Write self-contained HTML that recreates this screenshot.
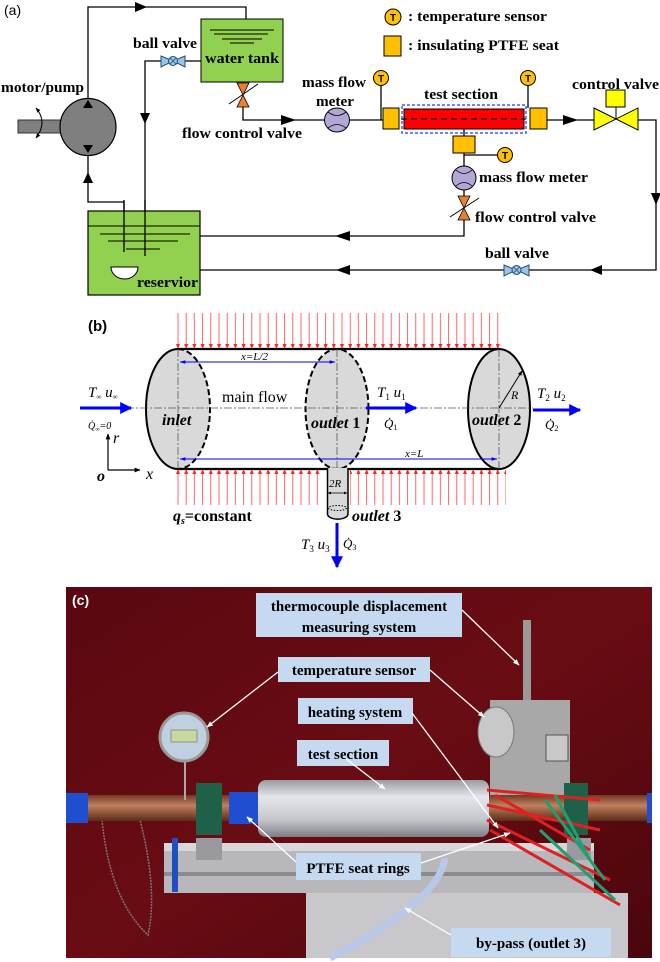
<!DOCTYPE html>
<html><head><meta charset="utf-8"><style>
html,body{margin:0;padding:0;background:#fff}
svg{display:block}
.lb{font-family:"Liberation Serif",serif;font-weight:bold;font-size:15px;fill:#000}
.ph{font-family:"Liberation Serif",serif;font-weight:bold;font-size:15px;fill:#000}
.it{font-family:"Liberation Serif",serif;font-style:italic}
</style></head><body>
<svg width="660" height="962" viewBox="0 0 660 962" xmlns="http://www.w3.org/2000/svg">
<defs>
<marker id="ah" viewBox="0 0 10 10" refX="9" refY="5" markerWidth="4" markerHeight="4" orient="auto"><path d="M0,0L10,5L0,10z" fill="#0000ff"/></marker>
<marker id="as" viewBox="0 0 10 10" refX="9" refY="5" markerWidth="6" markerHeight="6" orient="auto-start-reverse"><path d="M0,2L10,5L0,8z" fill="#0000ff"/></marker>
<marker id="ak" viewBox="0 0 10 10" refX="9" refY="5" markerWidth="5" markerHeight="5" orient="auto-start-reverse"><path d="M0,1L10,5L0,9z" fill="#000"/></marker>
<marker id="aw" viewBox="0 0 10 10" refX="9" refY="5" markerWidth="5" markerHeight="5" orient="auto"><path d="M0,1L10,5L0,9z" fill="#fff"/></marker>
<pattern id="rdn" patternUnits="userSpaceOnUse" x="174" y="313" width="8.2" height="36"><line x1="4" y1="0" x2="4" y2="32" stroke="#ff4040" stroke-width=".8"/><path d="M2,31L6,31L4,36z" fill="#ff2020"/></pattern>
<pattern id="rup" patternUnits="userSpaceOnUse" x="174" y="469" width="8.2" height="36"><line x1="4" y1="4" x2="4" y2="36" stroke="#ff4040" stroke-width=".8"/><path d="M2,5L6,5L4,0z" fill="#ff2020"/></pattern>
<linearGradient id="cu" x1="0" y1="0" x2="0" y2="1"><stop offset="0" stop-color="#6e3a22"/><stop offset=".4" stop-color="#c08060"/><stop offset="1" stop-color="#5a2c18"/></linearGradient>
<linearGradient id="foil" x1="0" y1="0" x2="0" y2="1"><stop offset="0" stop-color="#9a9ca4"/><stop offset=".3" stop-color="#e4e6ea"/><stop offset=".7" stop-color="#c4c6cc"/><stop offset="1" stop-color="#7c7e84"/></linearGradient>
<linearGradient id="bg" x1="0" y1="0" x2="1" y2="1"><stop offset="0" stop-color="#5a0810"/><stop offset=".5" stop-color="#6a0c14"/><stop offset="1" stop-color="#4a060c"/></linearGradient>
</defs>

<!-- ===== (a) ===== -->
<text x="4" y="15" font-family="Liberation Sans,sans-serif" font-size="14">(a)</text>
<g stroke="#000" stroke-width="1.3" fill="none">
<polyline points="88,99 88,7 246,7 246,19"/>
<polyline points="201,61 145,61 145,256"/>
<polyline points="243,107 243,120 324,120"/>
<line x1="349" y1="120" x2="383" y2="120"/>
<line x1="381" y1="85" x2="381" y2="120"/>
<line x1="528" y1="85" x2="528" y2="108"/>
<line x1="547" y1="120" x2="594" y2="120"/>
<polyline points="638,120 656,120 656,270 528,270"/>
<line x1="506" y1="270" x2="200" y2="270"/>
<line x1="464" y1="129" x2="464" y2="166"/>
<line x1="464" y1="155" x2="497" y2="155"/>
<line x1="464" y1="190" x2="464" y2="196"/>
<polyline points="464,220 464,236 200,236"/>
<polyline points="88,155 88,202 124,202 124,252"/>
</g>
<g fill="#000">
<path d="M135,2L147,7L135,12z"/>
<path d="M140,113L145,124L150,113z"/>
<path d="M281,115L296,120L281,125z"/>
<path d="M563,115L578,120L563,125z"/>
<path d="M651,193L656,205L661,193z"/>
<path d="M602,265L590,270L602,275z"/>
<path d="M350,265L336,270L350,275z"/>
<path d="M350,231L335,236L350,241z"/>
<path d="M83,183L88,172L93,183z"/>
</g>
<!-- water tank -->
<rect x="201" y="19" width="82" height="63" fill="#92d050" stroke="#000" stroke-width="1"/>
<g stroke="#000" stroke-width="1"><line x1="210" y1="30" x2="274" y2="30"/><line x1="214" y1="34" x2="268" y2="34"/><line x1="222" y1="39" x2="262" y2="39"/><line x1="230" y1="43" x2="254" y2="43"/></g>
<text x="205" y="63" class="lb" textLength="74" lengthAdjust="spacingAndGlyphs">water tank</text>
<!-- ball valves -->
<g stroke="#1f4e79" stroke-width="1" fill="#9dc3e6">
<path d="M161,56L173,61L161,67z"/><path d="M185,56L173,61L185,67z"/><circle cx="173" cy="61" r="4.5"/>
<path d="M504,265L516,270L504,276z"/><path d="M529,265L517,270L529,276z"/><circle cx="516.5" cy="270" r="4.5"/>
</g>
<g stroke="#1f4e79" stroke-width="0.8"><path d="M170,58L176,64M176,58L170,64M513.5,267L519.5,273M519.5,267L513.5,273"/></g>
<text x="133" y="48" class="lb" textLength="64" lengthAdjust="spacingAndGlyphs">ball valve</text>
<text x="485" y="258" class="lb" textLength="64" lengthAdjust="spacingAndGlyphs">ball valve</text>
<!-- flow control valves -->
<g fill="#ed7d31" stroke="#000" stroke-width=".8">
<path d="M237,83L249,83L243,95z"/><path d="M237,107L249,107L243,95z"/>
<path d="M458,196L470,196L464,208z"/><path d="M458,220L470,220L464,208z"/>
</g>
<g stroke="#000" stroke-width="1"><line x1="229" y1="104" x2="258" y2="84"/><line x1="450" y1="217" x2="479" y2="198"/></g>
<text x="182" y="138" class="lb" textLength="120" lengthAdjust="spacingAndGlyphs">flow control valve</text>
<text x="475" y="222" class="lb" textLength="121" lengthAdjust="spacingAndGlyphs">flow control valve</text>
<!-- mass flow meters -->
<g fill="#b4a7d6" stroke="#000" stroke-width="1">
<ellipse cx="337" cy="120" rx="12.5" ry="12"/><ellipse cx="464" cy="178" rx="12" ry="12"/>
</g>
<g fill="none" stroke="#000" stroke-width=".8"><path d="M328,112Q337,119 346,112M328,128Q337,121 346,128M456,170Q464,177 472,170M456,186Q464,179 472,186"/></g>
<text x="302" y="87" class="lb" textLength="64" lengthAdjust="spacingAndGlyphs">mass flow</text>
<text x="316" y="106" class="lb" textLength="38" lengthAdjust="spacingAndGlyphs">meter</text>
<text x="479" y="182" class="lb" textLength="109" lengthAdjust="spacingAndGlyphs">mass flow meter</text>
<!-- temp sensors -->
<g fill="#ffc000" stroke="#000" stroke-width="1"><circle cx="381" cy="78" r="7.5"/><circle cx="528" cy="78" r="7.5"/><circle cx="505" cy="155" r="7.5"/><circle cx="393" cy="17" r="8"/></g>
<g font-family="Liberation Sans,sans-serif" font-size="10" font-weight="bold" text-anchor="middle"><text x="381" y="82">T</text><text x="528" y="82">T</text><text x="505" y="159">T</text><text x="393" y="21">T</text></g>
<!-- PTFE seats & test section -->
<g fill="#ffc000" stroke="#000" stroke-width="1"><rect x="383" y="108" width="16" height="21"/><rect x="530" y="108" width="17" height="21"/><rect x="453" y="136" width="22" height="17"/><rect x="384" y="36" width="17" height="20"/></g>
<rect x="404" y="109" width="120" height="20" fill="#ff0000" stroke="#000" stroke-width="1"/>
<line x1="401" y1="119" x2="526" y2="119" stroke="#000" stroke-width="1.2" stroke-dasharray="6,4"/>
<rect x="402" y="105" width="124" height="28" fill="none" stroke="#2030ff" stroke-width="1.2" stroke-dasharray="3,2"/>
<text x="424" y="99" class="lb" textLength="74" lengthAdjust="spacingAndGlyphs">test section</text>
<text x="408" y="21" class="lb" textLength="139" lengthAdjust="spacingAndGlyphs">: temperature sensor</text>
<text x="408" y="50" class="lb" textLength="151" lengthAdjust="spacingAndGlyphs">: insulating PTFE seat</text>
<!-- control valve -->
<path d="M594,108L638,130L638,108L594,130z" fill="#ffff00" stroke="#000" stroke-width="1"/>
<line x1="616" y1="107" x2="616" y2="119" stroke="#000"/>
<rect x="606" y="90" width="19" height="17" fill="#ffff00" stroke="#000"/>
<text x="572" y="89" class="lb" textLength="87" lengthAdjust="spacingAndGlyphs">control valve</text>
<!-- pump -->
<rect x="18" y="120" width="45" height="13" fill="#7f7f7f" stroke="#333" stroke-width="1"/>
<ellipse cx="88" cy="127" rx="28" ry="28.5" fill="#7f7f7f" stroke="#000" stroke-width="1.2"/>
<path d="M83,108L88,100L93,108z M83,145L88,153L93,145z" fill="#000"/>
<path d="M36,108Q48,122 36,138" fill="none" stroke="#000" stroke-width="1" marker-start="url(#ak)" marker-end="url(#ak)"/>
<text x="1" y="92" class="lb" textLength="83" lengthAdjust="spacingAndGlyphs">motor/pump</text>
<!-- reservoir -->
<rect x="88" y="211" width="112" height="84" fill="#92d050" stroke="#000" stroke-width="1.2"/>
<g stroke="#000" stroke-width="1"><line x1="88" y1="226" x2="200" y2="226"/><line x1="100" y1="234" x2="190" y2="234"/><line x1="108" y1="241" x2="178" y2="241"/><line x1="126" y1="249" x2="160" y2="249"/></g>
<g stroke="#000" stroke-width="1.3"><line x1="124" y1="200" x2="124" y2="252"/><line x1="145" y1="200" x2="145" y2="256"/></g>
<path d="M111,267L138,267A13.5,12 0 0 1 111,267z" fill="#fff" stroke="#000"/>
<text x="137" y="287" class="lb" textLength="61" lengthAdjust="spacingAndGlyphs">reservior</text>

<!-- ===== (b) ===== -->
<text x="88" y="331" font-family="Liberation Sans,sans-serif" font-size="15" font-weight="bold">(b)</text>
<rect x="174" y="313" width="328" height="36" fill="url(#rdn)"/>
<rect x="174" y="469" width="148" height="36" fill="url(#rup)"/>
<rect x="350" y="469" width="156" height="36" fill="url(#rup)"/>
<ellipse cx="178" cy="409" rx="32" ry="60" fill="#d9d9d9"/>
<ellipse cx="337" cy="409" rx="31.5" ry="60" fill="#d9d9d9"/>
<ellipse cx="499" cy="409" rx="31" ry="60" fill="#d9d9d9" stroke="#000" stroke-width="2"/>
<path d="M178,349A32,60 0 0 0 178,469" fill="none" stroke="#000" stroke-width="2"/>
<path d="M178,349A32,60 0 0 1 178,469" fill="none" stroke="#000" stroke-width="2" stroke-dasharray="6,3"/>
<ellipse cx="337" cy="409" rx="31.5" ry="60" fill="none" stroke="#000" stroke-width="2" stroke-dasharray="6,3"/>
<line x1="178" y1="349" x2="499" y2="349" stroke="#000" stroke-width="2.2"/>
<line x1="178" y1="469" x2="499" y2="469" stroke="#000" stroke-width="2.2"/>
<g stroke="#555" stroke-width=".8" stroke-dasharray="8,2,2,2"><line x1="126" y1="408" x2="533" y2="408"/><line x1="178" y1="349" x2="178" y2="469"/><line x1="337" y1="349" x2="337" y2="469"/><line x1="499" y1="349" x2="499" y2="469"/></g>
<line x1="180" y1="362" x2="335" y2="362" stroke="#0000ff" stroke-width="1" marker-start="url(#as)" marker-end="url(#as)"/>
<line x1="180" y1="459" x2="497" y2="459" stroke="#0000ff" stroke-width="1" marker-start="url(#as)" marker-end="url(#as)"/>
<line x1="499" y1="408" x2="522" y2="371" stroke="#000" stroke-width="1" marker-end="url(#ak)"/>
<path d="M327.5,468L327.5,514A10,5 0 0 0 348,514L348,468" fill="#d9d9d9" stroke="#000" stroke-width="1.5"/>
<ellipse cx="337.5" cy="508" rx="9" ry="2.5" fill="none" stroke="#000" stroke-dasharray="1.5,1.5"/>
<line x1="328" y1="493" x2="347" y2="493" stroke="#000" stroke-width=".7" marker-start="url(#ak)" marker-end="url(#ak)"/>
<g stroke="#0000ff" stroke-width="3" marker-end="url(#ah)"><line x1="80" y1="408" x2="131" y2="408"/><line x1="366" y1="408" x2="416" y2="408"/><line x1="533" y1="410" x2="580" y2="410"/><line x1="337" y1="523" x2="337" y2="567"/></g>
<g stroke="#000" stroke-width="1.2" marker-end="url(#ak)"><line x1="108" y1="470" x2="108" y2="434"/><line x1="108" y1="470" x2="140" y2="470"/></g>
<g font-family="Liberation Serif,serif" font-size="15">
<text x="88" y="397" class="it">T<tspan font-size="7" dy="2">∞</tspan><tspan dy="-2"> u</tspan><tspan font-size="7" dy="2">∞</tspan></text>
<text x="88" y="429" class="it" font-size="10">Q̇<tspan font-size="6" dy="2">∞</tspan><tspan dy="-2">=0</tspan></text>
<text x="222" y="402" font-size="16">main flow</text>
<text x="162" y="425" class="it" font-weight="bold" font-size="16">inlet</text>
<text x="311" y="428" class="it" font-weight="bold" font-size="16">outlet <tspan font-style="normal">1</tspan></text>
<text x="472" y="425" class="it" font-weight="bold" font-size="16">outlet <tspan font-style="normal">2</tspan></text>
<text x="377" y="397" class="it">T<tspan font-size="9" dy="3" font-style="normal">1</tspan><tspan dy="-3"> u</tspan><tspan font-size="9" dy="3" font-style="normal">1</tspan></text>
<text x="537" y="398" class="it">T<tspan font-size="9" dy="3" font-style="normal">2</tspan><tspan dy="-3"> u</tspan><tspan font-size="9" dy="3" font-style="normal">2</tspan></text>
<text x="384" y="428" class="it" font-size="13">Q̇<tspan font-size="8" dy="2" font-style="normal">1</tspan></text>
<text x="545" y="429" class="it" font-size="13">Q̇<tspan font-size="8" dy="2" font-style="normal">2</tspan></text>
<text x="511" y="399" class="it" font-size="12">R</text>
<text x="241" y="360" class="it" font-size="11">x=L/2</text>
<text x="405" y="457" class="it" font-size="11">x=L</text>
<text x="97" y="481" class="it" font-weight="bold" font-size="16">o</text>
<text x="146" y="479" class="it" font-size="16">x</text>
<text x="113" y="443" class="it" font-size="16">r</text>
<text x="329" y="487" class="it" font-size="11">2R</text>
<text x="173" y="521" font-weight="bold" font-size="16"><tspan class="it">q<tspan font-size="10" dy="3">s</tspan></tspan><tspan dy="-3">=constant</tspan></text>
<text x="352" y="521" class="it" font-weight="bold" font-size="16">outlet <tspan font-style="normal">3</tspan></text>
<text x="301" y="549" class="it">T<tspan font-size="9" dy="3" font-style="normal">3</tspan><tspan dy="-3"> u</tspan><tspan font-size="9" dy="3" font-style="normal">3</tspan></text>
<text x="343" y="548" class="it" font-size="13">Q̇<tspan font-size="8" dy="2" font-style="normal">3</tspan></text>
</g>

<!-- ===== (c) photo ===== -->
<rect x="66" y="587" width="586" height="371" fill="url(#bg)"/>
<rect x="306" y="893" width="322" height="65" fill="#c8c8cc"/>
<rect x="164" y="843" width="430" height="50" fill="#b8b8bc"/>
<rect x="164" y="843" width="430" height="8" fill="#d8d8dc"/>
<rect x="164" y="872" width="430" height="4" fill="#8c8c90"/>
<rect x="172" y="838" width="6" height="54" fill="#2050c0"/>
<path d="M445,858Q440,900 330,958" fill="none" stroke="#b8c8e8" stroke-width="7"/>
<path d="M102,820Q110,900 148,935Q158,890 140,820" fill="none" stroke="#777" stroke-width="1.5" stroke-dasharray="2,1"/>
<rect x="523" y="620" width="8" height="120" fill="#999"/>
<rect x="490" y="700" width="80" height="95" fill="#a8a8a8"/>
<ellipse cx="496" cy="732" rx="18" ry="25" fill="#c8c8c8" stroke="#777"/>
<rect x="546" y="735" width="22" height="26" fill="#c8c8c8" stroke="#555"/>
<rect x="66" y="795" width="586" height="26" fill="url(#cu)"/>
<rect x="66" y="793" width="22" height="30" fill="#1f4fd0"/>
<rect x="229" y="792" width="30" height="32" fill="#1f4fd0"/>
<rect x="647" y="793" width="5" height="30" fill="#1f4fd0"/>
<rect x="196" y="783" width="26" height="52" fill="#1e6048"/>
<rect x="564" y="783" width="24" height="52" fill="#1e6048"/>
<rect x="196" y="838" width="26" height="22" fill="#9a9a9e"/>
<rect x="567" y="838" width="24" height="22" fill="#9a9a9e"/>
<rect x="258" y="780" width="231" height="57" rx="8" fill="url(#foil)"/>
<path d="M487,790L600,800M487,805L600,830M487,820L610,880M490,830L620,905M495,795L590,850" stroke="#e02020" stroke-width="3" fill="none"/>
<path d="M545,800L605,880M555,795L590,860M540,830L615,900" stroke="#20a070" stroke-width="3" fill="none"/>
<line x1="185" y1="760" x2="185" y2="800" stroke="#aaa" stroke-width="2"/>
<circle cx="184" cy="737" r="24" fill="#c0d0e0" stroke="#999" stroke-width="3"/>
<rect x="171" y="730" width="26" height="12" fill="#c8d8a0" stroke="#555" stroke-width=".5"/>
<g fill="#c5d9f1">
<rect x="256" y="593" width="206" height="44"/>
<rect x="278" y="657" width="152" height="25"/>
<rect x="298" y="698" width="115" height="26"/>
<rect x="297" y="740" width="92" height="26"/>
<rect x="296" y="853" width="125" height="27"/>
<rect x="451" y="928" width="160" height="29"/>
</g>
<g stroke="#fff" stroke-width="1.3" marker-end="url(#aw)" fill="none">
<line x1="462" y1="610" x2="519" y2="665"/>
<line x1="430" y1="670" x2="484" y2="717"/>
<line x1="278" y1="672" x2="207" y2="727"/>
<line x1="412" y1="713" x2="498" y2="828"/>
<line x1="345" y1="758" x2="385" y2="789"/>
<line x1="296" y1="862" x2="247" y2="817"/>
<line x1="421" y1="863" x2="510" y2="833"/>
<line x1="451" y1="935" x2="405" y2="908"/>
</g>
<text x="72" y="605" font-family="Liberation Sans,sans-serif" font-size="14" font-weight="bold" fill="#fff">(c)</text>
<g class="ph" text-anchor="middle">
<text x="359" y="611">thermocouple displacement</text>
<text x="359" y="632">measuring system</text>
<text x="354" y="675">temperature sensor</text>
<text x="355" y="717">heating system</text>
<text x="343" y="759">test section</text>
<text x="358" y="873">PTFE seat rings</text>
<text x="531" y="948">by-pass (outlet 3)</text>
</g>
</svg>
</body></html>
